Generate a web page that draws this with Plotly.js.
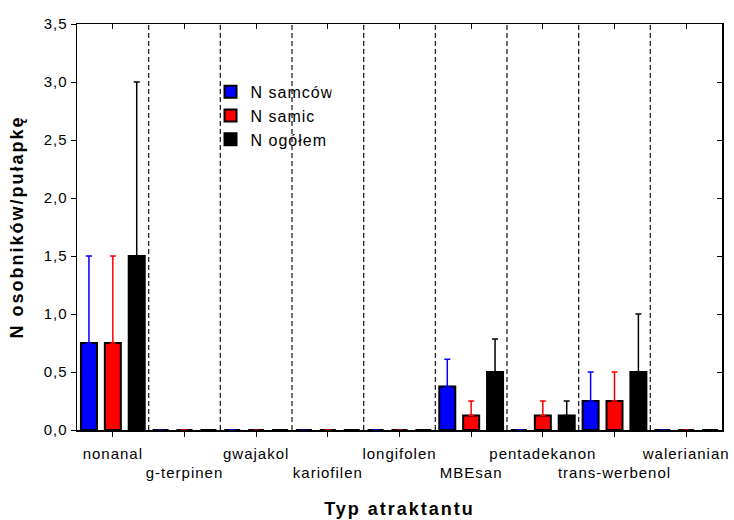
<!DOCTYPE html>
<html>
<head>
<meta charset="utf-8">
<script src="https://cdn.plot.ly/plotly-3.0.1.min.js"></script>
<style>
body{margin:0;background:#fff;}
#chart{width:734px;height:520px;}
#chart .xtick text, #chart .ytick text{letter-spacing:1px;}
#chart .legendtext{letter-spacing:1px;}
#chart .xtitle, #chart .ytitle{letter-spacing:2px;}
</style>
</head>
<body>
<div id="chart"></div>
<script>
var categories = ["nonanal","g-terpinen","gwajakol","kariofilen","longifolen","MBEsan","pentadekanon","trans-werbenol","walerianian"];
var samcow = [0.75,0,0,0,0,0.375,0,0.25,0];
var samcowErr = [0.75,0,0,0,0,0.235,0,0.25,0];
var samic = [0.75,0,0,0,0,0.125,0.125,0.25,0];
var samicErr = [0.75,0,0,0,0,0.125,0.125,0.25,0];
var ogolem = [1.5,0,0,0,0,0.5,0.125,0.5,0];
var ogolemErr = [1.5,0,0,0,0,0.285,0.125,0.5,0];
var seriesNames = ["N samców","N samic","N ogółem"];
var yTicks = [0,0.5,1,1.5,2,2.5,3,3.5];

var idx = categories.map(function(c,i){return i;});
var tickText = categories.map(function(c,i){return i%2===1 ? "<br>"+c : c;});
var zeros = categories.map(function(){return 0;});

function mk(name, vals, errs, col){
  return {type:"bar", name:name, x:idx, y:vals,
    marker:{color:col, line:{color:"#000", width:2}},
    error_y:{type:"data", symmetric:false, array:errs, arrayminus:zeros, color:col, thickness:1.5, width:3},
    hoverinfo:"y"};
}
var data = [
  mk(seriesNames[0], samcow, samcowErr, "#0000ff"),
  mk(seriesNames[1], samic, samicErr, "#ff0000"),
  mk(seriesNames[2], ogolem, ogolemErr, "#000000")
];
data.push({type:"scatter", mode:"markers", x:[0], y:[0], xaxis:"x2", yaxis:"y2",
  marker:{opacity:0}, showlegend:false, hoverinfo:"skip"});

var shapes = [];
for (var i=0;i<categories.length-1;i++){
  shapes.push({type:"line", xref:"x", yref:"paper", x0:i+0.5, x1:i+0.5, y0:0, y1:1,
    line:{color:"#222", width:1.3, dash:"5px,3px"}, layer:"below"});
}

var fam = "Liberation Sans, Arial, sans-serif";
var layout = {
  width:734, height:520,
  margin:{l:77, r:12, t:24, b:90},
  paper_bgcolor:"#fff", plot_bgcolor:"#fff",
  separators:",.",
  font:{family:fam, size:15, color:"#000"},
  barmode:"group", bargap:0, bargroupgap:0.33,
  showlegend:true,
  legend:{x:0.207, y:0.875, xanchor:"left", yanchor:"top", bgcolor:"rgba(0,0,0,0)",
    font:{family:fam, size:16, color:"#000"}, tracegroupgap:0, itemwidth:30},
  xaxis:{range:[-0.5, categories.length-0.5], tickmode:"array", tickvals:idx, ticktext:tickText,
    tickangle:0, ticks:"outside", ticklen:5, tickcolor:"#000", tickwidth:1, showgrid:false, zeroline:false,
    showline:true, linecolor:"#000", linewidth:1.5, mirror:true, ticklabelstandoff:4,
    tickfont:{family:fam, size:15, color:"#000"},
    title:{text:"<b>Typ atraktantu</b>", font:{family:fam, size:18, color:"#000"}, standoff:22}},
  yaxis:{range:[0,3.5], tickmode:"array", tickvals:yTicks, tickformat:".1f",
    ticks:"outside", ticklen:5, tickcolor:"#000", showgrid:false, zeroline:false,
    showline:true, linecolor:"#000", linewidth:1.5, mirror:true,
    tickfont:{family:fam, size:15, color:"#000"},
    title:{text:"<b>N osobników/pułapkę</b>", font:{family:fam, size:18, color:"#000"}, standoff:18}},
  xaxis2:{overlaying:"x", side:"top", range:[-0.5, categories.length-0.5], tickmode:"array", tickvals:idx,
    ticks:"inside", ticklen:5, tickcolor:"#000", showticklabels:false, showgrid:false, zeroline:false, showline:false},
  yaxis2:{overlaying:"y", side:"right", range:[0,3.5], tickmode:"array", tickvals:yTicks,
    ticks:"inside", ticklen:5, tickcolor:"#000", showticklabels:false, showgrid:false, zeroline:false, showline:false},
  shapes:shapes
};
Plotly.newPlot("chart", data, layout, {displayModeBar:false, staticPlot:true});
</script>
</body>
</html>
